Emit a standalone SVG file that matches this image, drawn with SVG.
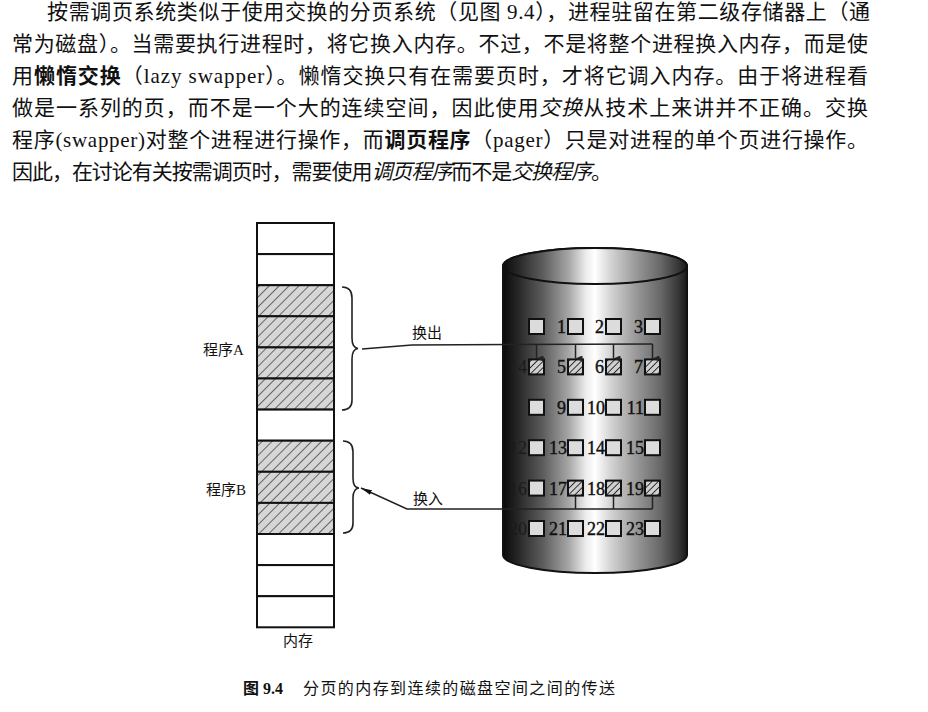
<svg xmlns="http://www.w3.org/2000/svg" width="928" height="712" viewBox="0 0 928 712">
<style>
.para{font-family:"Liberation Serif","Noto Sans CJK SC",serif;font-size:21px;fill:#111}
.b{font-weight:bold}
.i{font-style:italic}
.lbl{font-family:"Liberation Serif","Noto Sans CJK SC",serif;font-size:15px;fill:#111}
.cap{font-family:"Liberation Serif","Noto Sans CJK SC",serif;font-size:16px;fill:#111}
.num{font-family:"Liberation Serif",serif;font-size:18px;fill:#111;text-anchor:end;stroke:#111;stroke-width:0.4}
.numdim{font-family:"Liberation Serif",serif;font-size:18px;fill:#1a1a1a;text-anchor:end}
.cell{fill:#fff;stroke:#111;stroke-width:2}
.hcell{fill:url(#memHatch);stroke:#111;stroke-width:2}
.sq{fill:#dcdcdc;stroke:#111;stroke-width:2}
.hsq{fill:url(#diskHatch);stroke:#111;stroke-width:2}
.brace{fill:none;stroke:#222;stroke-width:1.6}
.conn{fill:none;stroke:#222;stroke-width:1.5}
</style>
<defs>
<pattern id="memHatch" patternUnits="userSpaceOnUse" width="7" height="7" patternTransform="rotate(45)">
<rect width="7" height="7" fill="#d6d6d6"/>
<line x1="0" y1="0" x2="0" y2="7" stroke="#1a1a1a" stroke-width="1.2"/>
</pattern>
<pattern id="diskHatch" patternUnits="userSpaceOnUse" width="4.5" height="4.5" patternTransform="rotate(45)">
<rect width="4.5" height="4.5" fill="#d0d0d0"/>
<line x1="0" y1="0" x2="0" y2="4.5" stroke="#222" stroke-width="1.8"/>
</pattern>
<linearGradient id="cyl" x1="0" y1="0" x2="1" y2="0">
<stop offset="0" stop-color="#0a0a0a"/>
<stop offset="0.08" stop-color="#262626"/>
<stop offset="0.22" stop-color="#5e5e5e"/>
<stop offset="0.36" stop-color="#a8a8a8"/>
<stop offset="0.45" stop-color="#ececec"/>
<stop offset="0.5" stop-color="#ffffff"/>
<stop offset="0.58" stop-color="#d6d6d6"/>
<stop offset="0.72" stop-color="#9a9a9a"/>
<stop offset="0.86" stop-color="#666"/>
<stop offset="0.96" stop-color="#333"/>
<stop offset="1" stop-color="#1a1a1a"/>
</linearGradient>
<marker id="down" markerWidth="6" markerHeight="7" refX="3" refY="7" orient="auto-start-reverse" markerUnits="userSpaceOnUse" viewBox="0 0 6 7">
<path d="M0,0 L6,0 L3,7 Z" fill="#222"/>
</marker>
<marker id="tip" markerWidth="11" markerHeight="5" refX="11" refY="2.5" orient="auto" markerUnits="userSpaceOnUse" viewBox="0 0 11 5">
<path d="M0,0 L11,2.5 L0,5 Z" fill="#111"/>
</marker>
</defs>

<rect width="928" height="712" fill="#fff"/>

<g id="paragraph">
<text class="para" x="47" y="19" textLength="823" lengthAdjust="spacing">按需调页系统类似于使用交换的分页系统（见图 9.4），进程驻留在第二级存储器上（通</text>
<text class="para" x="12" y="51" textLength="856" lengthAdjust="spacing">常为磁盘）。当需要执行进程时，将它换入内存。不过，不是将整个进程换入内存，而是使</text>
<text class="para" x="12" y="83" textLength="856" lengthAdjust="spacing">用<tspan class="b">懒惰交换</tspan>（lazy swapper）。懒惰交换只有在需要页时，才将它调入内存。由于将进程看</text>
<text class="para" x="12" y="115" textLength="856" lengthAdjust="spacing">做是一系列的页，而不是一个大的连续空间，因此使用<tspan class="i">交换</tspan>从技术上来讲并不正确。交换</text>
<text class="para" x="12" y="147" textLength="856" lengthAdjust="spacing">程序(swapper)对整个进程进行操作，而<tspan class="b">调页程序</tspan>（pager）只是对进程的单个页进行操作。</text>
<text class="para" x="12" y="179" textLength="600" lengthAdjust="spacing">因此，在讨论有关按需调页时，需要使用<tspan class="i">调页程序</tspan>而不是<tspan class="i">交换程序</tspan>。</text>
</g>

<g id="memory">
<rect class="cell" x="257" y="223" width="77" height="31.1"/>
<rect class="cell" x="257" y="254.1" width="77" height="31.1"/>
<rect class="hcell" x="257" y="285.2" width="77" height="31.1"/>
<rect class="hcell" x="257" y="316.3" width="77" height="31.1"/>
<rect class="hcell" x="257" y="347.4" width="77" height="31.1"/>
<rect class="hcell" x="257" y="378.5" width="77" height="31.1"/>
<rect class="cell" x="257" y="409.6" width="77" height="31.1"/>
<rect class="hcell" x="257" y="440.7" width="77" height="31.1"/>
<rect class="hcell" x="257" y="471.8" width="77" height="31.1"/>
<rect class="hcell" x="257" y="502.9" width="77" height="31.1"/>
<rect class="cell" x="257" y="534" width="77" height="31.1"/>
<rect class="cell" x="257" y="565.1" width="77" height="31.1"/>
<rect class="cell" x="257" y="596.2" width="77" height="31.1"/>
<text class="lbl" x="298" y="646" text-anchor="middle">内存</text>
</g>

<g id="programA">
<path class="brace" d="M342,287 C348,287 352,290 352,298 L352,338 C352,345 354,348 358,348.5 C354,349 352,352 352,359 L352,400 C352,407 348,410 342,410"/>
<text class="lbl" x="203" y="355">程序A</text>
</g>

<g id="programB">
<path class="brace" d="M343,441 C349,441 353,444 353,452 L353,478 C353,485 355,488 359,488 C355,488.5 353,491 353,498 L353,523 C353,530 349,533 343,533"/>
<text class="lbl" x="206" y="495">程序B</text>
</g>

<g id="disk">
<path d="M503,266 L503,555 A92,18 0 0 0 687,555 L687,266 A92,18 0 0 0 503,266 Z" fill="url(#cyl)" stroke="#111" stroke-width="2"/>
<ellipse cx="595" cy="266" rx="92" ry="18" fill="url(#cyl)" stroke="#111" stroke-width="2"/>

<rect class="sq" x="529" y="319" width="15" height="15"/>
<rect class="sq" x="568" y="319" width="15" height="15"/>
<rect class="sq" x="606" y="319" width="15" height="15"/>
<rect class="sq" x="645" y="319" width="15" height="15"/>
<text class="num" x="566" y="333">1</text>
<text class="num" x="604" y="333">2</text>
<text class="num" x="643" y="333">3</text>

<rect class="hsq" x="529" y="359.4" width="15" height="15"/>
<rect class="hsq" x="568" y="359.4" width="15" height="15"/>
<rect class="hsq" x="606" y="359.4" width="15" height="15"/>
<rect class="hsq" x="645" y="359.4" width="15" height="15"/>
<text class="numdim" x="527" y="373.4">4</text>
<text class="num" x="566" y="373.4">5</text>
<text class="num" x="604" y="373.4">6</text>
<text class="num" x="643" y="373.4">7</text>

<rect class="sq" x="529" y="399.8" width="15" height="15"/>
<rect class="sq" x="568" y="399.8" width="15" height="15"/>
<rect class="sq" x="606" y="399.8" width="15" height="15"/>
<rect class="sq" x="645" y="399.8" width="15" height="15"/>
<text class="num" x="566" y="413.8">9</text>
<text class="num" x="605" y="413.8">10</text>
<text class="num" x="644" y="413.8">11</text>

<rect class="sq" x="529" y="440.2" width="15" height="15"/>
<rect class="sq" x="568" y="440.2" width="15" height="15"/>
<rect class="sq" x="606" y="440.2" width="15" height="15"/>
<rect class="sq" x="645" y="440.2" width="15" height="15"/>
<text class="numdim" x="527" y="454.2">12</text>
<text class="num" x="567" y="454.2">13</text>
<text class="num" x="605" y="454.2">14</text>
<text class="num" x="644" y="454.2">15</text>

<rect class="sq" x="529" y="480.6" width="15" height="15"/>
<rect class="hsq" x="568" y="480.6" width="15" height="15"/>
<rect class="hsq" x="606" y="480.6" width="15" height="15"/>
<rect class="hsq" x="645" y="480.6" width="15" height="15"/>
<text class="numdim" x="527" y="494.6">16</text>
<text class="num" x="567" y="494.6">17</text>
<text class="num" x="605" y="494.6">18</text>
<text class="num" x="644" y="494.6">19</text>

<rect class="sq" x="529" y="521" width="15" height="15"/>
<rect class="sq" x="568" y="521" width="15" height="15"/>
<rect class="sq" x="606" y="521" width="15" height="15"/>
<rect class="sq" x="645" y="521" width="15" height="15"/>
<text class="numdim" x="527" y="535">20</text>
<text class="num" x="567" y="535">21</text>
<text class="num" x="605" y="535">22</text>
<text class="num" x="644" y="535">23</text>
</g>

<g id="connectors">
<polyline class="conn" points="362,349 412,345 652.5,344"/>
<line class="conn" x1="536.5" y1="344" x2="536.5" y2="358.5" marker-end="url(#down)"/>
<line class="conn" x1="575.5" y1="344" x2="575.5" y2="358.5" marker-end="url(#down)"/>
<line class="conn" x1="613.5" y1="344" x2="613.5" y2="358.5" marker-end="url(#down)"/>
<line class="conn" x1="652.5" y1="344" x2="652.5" y2="358.5" marker-end="url(#down)"/>
<text class="lbl" x="412" y="338">换出</text>

<polyline class="conn" points="652.5,509 407,509 361,488" marker-end="url(#tip)"/>
<line class="conn" x1="575.5" y1="509" x2="575.5" y2="496"/>
<line class="conn" x1="613.5" y1="509" x2="613.5" y2="496"/>
<line class="conn" x1="652.5" y1="509" x2="652.5" y2="496"/>
<text class="lbl" x="413" y="504">换入</text>
</g>

<g id="caption">
<text class="cap" x="243" y="694"><tspan font-weight="bold">图 9.4</tspan><tspan x="303" textLength="312" lengthAdjust="spacing">分页的内存到连续的磁盘空间之间的传送</tspan></text>
</g>
</svg>
